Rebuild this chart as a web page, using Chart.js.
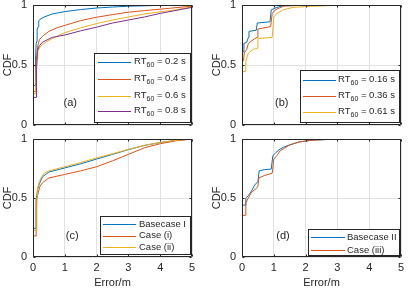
<!DOCTYPE html>
<html><head><meta charset="utf-8">
<script src="https://cdn.jsdelivr.net/npm/chart.js@4"></script>
<style>
html,body{margin:0;padding:0;background:#fff;width:409px;height:292px;overflow:hidden}
canvas{position:absolute;left:0;top:0}
</style></head>
<body>
<canvas id="pa" width="409" height="292"></canvas>
<canvas id="pb" width="409" height="292"></canvas>
<canvas id="pc" width="409" height="292"></canvas>
<canvas id="pd" width="409" height="292"></canvas>
<script>
// ---------- data ----------
const xTicks = [0, 1, 2, 3, 4, 5];
const yTicks = [0, 0.5, 1];
const yTickLabels = ['0', '0.5', '1'];
const xTitle = 'Error/m';
const yTitle = 'CDF';

// panel (a)
const aLabels = ['RT_{60} = 0.2 s', 'RT_{60} = 0.4 s', 'RT_{60} = 0.6 s', 'RT_{60} = 0.8 s'];
const aX1 = [0, 0, 0.07, 0.08, 0.10, 0.13, 0.13, 0.17, 0.18, 0.25, 0.35, 0.6, 1.0, 1.5, 2.0, 2.5, 3.0, 4.0, 5.0];
const aY1 = [0, 0.33, 0.33, 0.55, 0.68, 0.70, 0.80, 0.82, 0.87, 0.885, 0.90, 0.925, 0.945, 0.962, 0.975, 0.983, 0.99, 0.997, 1.0];
const aX2 = [0, 0, 0.08, 0.09, 0.12, 0.15, 0.2, 0.3, 0.5, 0.75, 1.0, 1.5, 2.0, 2.5, 3.0, 3.5, 4.0, 4.5, 5.0];
const aY2 = [0, 0.28, 0.28, 0.50, 0.58, 0.66, 0.71, 0.74, 0.78, 0.81, 0.83, 0.87, 0.898, 0.92, 0.94, 0.953, 0.965, 0.978, 0.99];
const aX3 = [0, 0, 0.09, 0.10, 0.13, 0.15, 0.25, 0.4, 0.6, 1.0, 1.5, 2.0, 2.5, 3.0, 3.5, 4.0, 4.5, 5.0];
const aY3 = [0, 0.26, 0.26, 0.47, 0.55, 0.62, 0.66, 0.69, 0.72, 0.77, 0.81, 0.845, 0.875, 0.90, 0.925, 0.943, 0.96, 0.985];
const aX4 = [0, 0, 0.10, 0.11, 0.14, 0.2, 0.3, 0.6, 1.0, 1.5, 2.0, 2.5, 3.0, 3.5, 4.0, 4.5, 5.0];
const aY4 = [0, 0.23, 0.23, 0.45, 0.62, 0.66, 0.69, 0.73, 0.75, 0.785, 0.815, 0.85, 0.875, 0.90, 0.93, 0.955, 0.98];

// panel (b)
const bLabels = ['RT_{60} = 0.16 s', 'RT_{60} = 0.36 s', 'RT_{60} = 0.61 s'];
const bX1 = [0, 0, 0.06, 0.06, 0.15, 0.2, 0.22, 0.45, 0.48, 0.88, 0.92, 1.1, 1.3, 2.0, 3.0];
const bY1 = [0, 0.61, 0.61, 0.68, 0.69, 0.73, 0.78, 0.79, 0.85, 0.86, 0.96, 0.98, 0.995, 1.0, 1.0];
const bX2 = [0, 0, 0.05, 0.07, 0.15, 0.2, 0.3, 0.4, 0.48, 0.5, 0.9, 0.95, 1.05, 1.3, 2.0, 3.5];
const bY2 = [0, 0.535, 0.535, 0.60, 0.63, 0.68, 0.70, 0.72, 0.73, 0.80, 0.82, 0.93, 0.96, 0.99, 1.0, 1.0];
const bX3 = [0, 0, 0.10, 0.12, 0.2, 0.35, 0.48, 0.5, 0.95, 1.0, 1.1, 1.3, 1.6, 2.2, 3.0, 4.2];
const bY3 = [0, 0.445, 0.445, 0.53, 0.60, 0.63, 0.64, 0.72, 0.73, 0.90, 0.93, 0.96, 0.98, 0.99, 0.997, 1.0];

// panel (c)
const cLabels = ['Basecase I', 'Case (i)', 'Case (ii)'];
const cX1 = [0, 0, 0.10, 0.10, 0.15, 0.2, 0.3, 0.5, 1.0, 1.5, 2.0, 2.5, 3.0, 3.5, 4.0, 4.5, 5.0];
const cY1 = [0, 0.243, 0.243, 0.49, 0.58, 0.62, 0.68, 0.72, 0.755, 0.79, 0.83, 0.87, 0.91, 0.945, 0.97, 0.988, 1.0];
const cX2 = [0, 0, 0.10, 0.10, 0.17, 0.22, 0.3, 0.5, 1.0, 1.5, 2.0, 2.5, 3.0, 3.5, 4.0, 4.5, 5.0];
const cY2 = [0, 0.178, 0.178, 0.47, 0.55, 0.60, 0.63, 0.67, 0.70, 0.73, 0.765, 0.815, 0.87, 0.925, 0.96, 0.985, 1.0];
const cX3 = [0, 0, 0.12, 0.12, 0.14, 0.2, 0.25, 0.35, 0.5, 1.0, 1.5, 2.0, 2.5, 3.0, 3.5, 4.0, 4.5, 5.0];
const cY3 = [0, 0.226, 0.226, 0.42, 0.58, 0.64, 0.67, 0.71, 0.73, 0.765, 0.80, 0.84, 0.875, 0.912, 0.946, 0.971, 0.989, 1.0];

// panel (d)
const dLabels = ['Basecase II', 'Case (iii)'];
const dX1 = [0, 0, 0.10, 0.12, 0.2, 0.3, 0.4, 0.5, 0.54, 0.7, 0.92, 0.97, 1.05, 1.17, 1.3, 1.5, 1.8, 2.2, 3.0];
const dY1 = [0, 0.44, 0.44, 0.50, 0.52, 0.56, 0.61, 0.64, 0.73, 0.74, 0.745, 0.86, 0.88, 0.91, 0.93, 0.95, 0.975, 0.99, 1.0];
const dX2 = [0, 0, 0.10, 0.12, 0.2, 0.3, 0.45, 0.5, 0.53, 0.7, 0.95, 1.0, 1.1, 1.2, 1.5, 1.8, 2.2, 3.0];
const dY2 = [0, 0.353, 0.353, 0.46, 0.50, 0.55, 0.58, 0.60, 0.67, 0.69, 0.71, 0.83, 0.86, 0.90, 0.95, 0.975, 0.99, 1.0];

const colors = ['#0072BD', '#D95319', '#EDB120', '#7E2F8E'];

// ---------- drawing ----------
const FONT = "'Liberation Sans', Arial, Helvetica, sans-serif";
const INK = '#262626';
Chart.defaults.font.family = FONT;
Chart.defaults.color = INK;

function drawLabel(ctx, text, x, y, size) {
  const m = /^(.*?)_\{(.*?)\}(.*)$/.exec(text);
  ctx.fillStyle = INK;
  ctx.textAlign = 'left';
  if (!m) {
    ctx.font = size + 'px ' + FONT;
    ctx.textBaseline = 'middle';
    ctx.fillText(text, x, y);
    return;
  }
  ctx.textBaseline = 'alphabetic';
  const base = y + size * 0.26;
  ctx.font = size + 'px ' + FONT;
  ctx.fillText(m[1], x, base);
  let cx = x + ctx.measureText(m[1]).width;
  const sub = Math.round(size * 0.72);
  ctx.font = sub + 'px ' + FONT;
  ctx.fillText(m[2], cx, base + size * 0.3);
  cx += ctx.measureText(m[2]).width;
  ctx.font = size + 'px ' + FONT;
  ctx.fillText(m[3], cx, base);
}

const matlabPlugin = {
  id: 'matlab',
  afterDraw(chart, args, o) {
    const {ctx, chartArea: ca, scales: {x, y}} = chart;
    ctx.save();
    const L = Math.round(ca.left) + 0.5, R = Math.round(ca.right) - 0.5;
    const T = Math.round(ca.top) + 0.5, B = Math.round(ca.bottom) - 0.5;
    ctx.strokeStyle = INK; ctx.lineWidth = 1;
    ctx.beginPath(); ctx.rect(L, T, R - L, B - T); ctx.stroke();
    ctx.beginPath();
    xTicks.forEach(v => {
      const px = Math.round(x.getPixelForValue(v)) + 0.5;
      ctx.moveTo(px, B); ctx.lineTo(px, B - 2);
      ctx.moveTo(px, T); ctx.lineTo(px, T + 2);
    });
    yTicks.forEach(v => {
      const py = Math.round(y.getPixelForValue(v)) + 0.5;
      ctx.moveTo(L, py); ctx.lineTo(L + 2, py);
      ctx.moveTo(R, py); ctx.lineTo(R - 2, py);
    });
    ctx.stroke();
    // panel tag
    ctx.fillStyle = INK; ctx.font = '11px ' + FONT;
    ctx.textAlign = 'left'; ctx.textBaseline = 'middle';
    ctx.fillText(o.tag.text, x.getPixelForValue(o.tag.x), y.getPixelForValue(o.tag.y));
    // legend
    const lg = o.legend;
    ctx.fillStyle = '#fff';
    ctx.fillRect(lg.x1, lg.y1, lg.x2 - lg.x1, lg.y2 - lg.y1);
    ctx.strokeStyle = INK; ctx.lineWidth = 1;
    ctx.strokeRect(lg.x1 + 0.5, lg.y1 + 0.5, lg.x2 - lg.x1 - 1, lg.y2 - lg.y1 - 1);
    chart.data.datasets.forEach((ds, i) => {
      const ry = lg.rows[i];
      ctx.strokeStyle = ds.borderColor; ctx.lineWidth = 1;
      ctx.beginPath();
      ctx.moveTo(lg.lx1, Math.round(ry) + 0.5);
      ctx.lineTo(lg.lx2, Math.round(ry) + 0.5);
      ctx.stroke();
      drawLabel(ctx, ds.label, lg.tx, ry, lg.font);
    });
    ctx.restore();
  }
};

function makeChart(id, labels, xs, ys, cfg) {
  const n = labels.length;
  const datasets = labels.map((lab, i) => ({
    label: lab,
    data: xs[i].map((v, k) => ({x: v, y: ys[i][k]})),
    borderColor: colors[i],
    borderWidth: 1,
    pointRadius: 0,
    tension: 0,
    fill: false,
    order: n - i
  }));
  return new Chart(document.getElementById(id), {
    type: 'line',
    data: {datasets},
    options: {
      responsive: false,
      animation: false,
      devicePixelRatio: 1,
      events: [],
      layout: {padding: cfg.pad},
      plugins: {
        legend: {display: false},
        tooltip: {enabled: false},
        matlab: {legend: cfg.legend, tag: cfg.tag}
      },
      scales: {
        x: {
          type: 'linear', min: xTicks[0], max: xTicks[xTicks.length - 1],
          afterBuildTicks(s) { s.ticks = xTicks.map(v => ({value: v})); },
          ticks: {display: cfg.showX, padding: 4, color: INK, font: {size: 11},
                  callback: v => String(v)},
          grid: {color: '#e2e2e2', drawTicks: false},
          border: {display: false},
          title: {display: cfg.showX, text: xTitle, color: INK, font: {size: 11}, padding: {top: 0, bottom: 2}},
          afterFit(s) { s.height = cfg.xH; s.paddingLeft = 0; s.paddingRight = 0; }
        },
        y: {
          type: 'linear', min: 0, max: 1,
          afterBuildTicks(s) { s.ticks = yTicks.map(v => ({value: v})); },
          ticks: {padding: 6, color: INK, font: {size: 11},
                  callback: v => yTickLabels[yTicks.indexOf(v)]},
          grid: {color: '#e2e2e2', drawTicks: false},
          border: {display: false},
          title: {display: true, text: yTitle, color: INK, font: {size: 11}, padding: {top: 1, bottom: 0}},
          afterFit(s) { s.width = 33; s.paddingTop = 0; s.paddingBottom = 0; }
        }
      }
    },
    plugins: [matlabPlugin]
  });
}

makeChart('pa', aLabels, [aX1, aX2, aX3, aX4], [aY1, aY2, aY3, aY4], {
  pad: {left: 0, top: 5, right: 217, bottom: 157}, xH: 10, showX: false,
  tag: {text: '(a)', x: 0.96, y: 0.18},
  legend: {x1: 94, y1: 53, x2: 191, y2: 123, rows: [62, 79, 95.5, 110.5], lx1: 98, lx2: 131, tx: 134, font: 9.5}
});
makeChart('pb', bLabels, [bX1, bX2, bX3], [bY1, bY2, bY3], {
  pad: {left: 209, top: 5, right: 8, bottom: 157}, xH: 10, showX: false,
  tag: {text: '(b)', x: 1.04, y: 0.18},
  legend: {x1: 300, y1: 70, x2: 400, y2: 123, rows: [80, 96, 112], lx1: 303, lx2: 336, tx: 338, font: 9.5}
});
makeChart('pc', cLabels, [cX1, cX2, cX3], [cY1, cY2, cY3], {
  pad: {left: 0, top: 139, right: 217, bottom: 0}, xH: 35, showX: true,
  tag: {text: '(c)', x: 1.03, y: 0.18},
  legend: {x1: 100, y1: 216, x2: 191, y2: 255, rows: [224, 235.5, 247], lx1: 103, lx2: 136, tx: 139, font: 9.5}
});
makeChart('pd', dLabels, [dX1, dX2], [dY1, dY2], {
  pad: {left: 209, top: 139, right: 8, bottom: 0}, xH: 35, showX: true,
  tag: {text: '(d)', x: 1.08, y: 0.18},
  legend: {x1: 308, y1: 229, x2: 400, y2: 256, rows: [237, 250], lx1: 311, lx2: 345, tx: 347, font: 9.5}
});
</script>
</body></html>
